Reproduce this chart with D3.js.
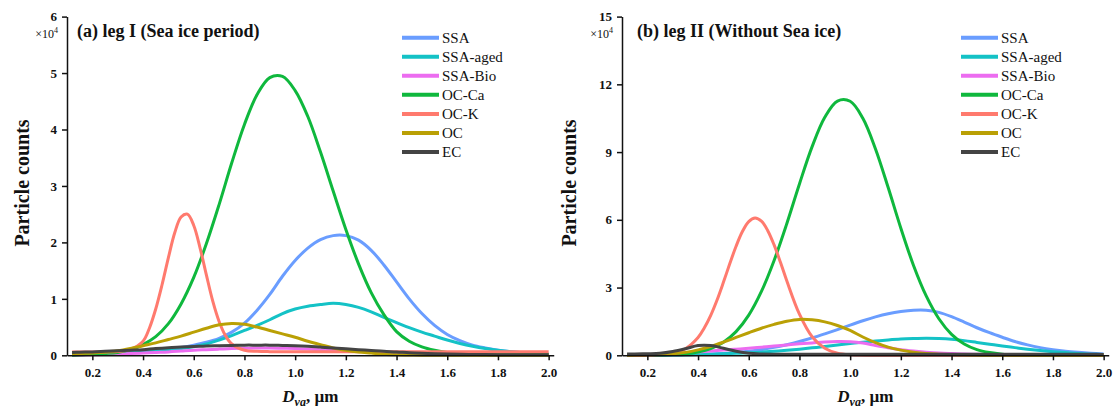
<!DOCTYPE html>
<html>
<head>
<meta charset="utf-8">
<script src="https://cdn.jsdelivr.net/npm/d3@7"></script>
<style>
  body { margin: 0; background: #fff; }
  svg text { font-family: "Liberation Serif", "Times New Roman", serif; fill: #111; }
</style>
</head>
<body>
<svg id="chart" width="1115" height="412"></svg>
<script>
// diameter grid (Dva, µm) shared by most curves
const diameter = [0.12, 0.15, 0.2, 0.25, 0.3, 0.35, 0.4, 0.45, 0.5, 0.55,
  0.6, 0.65, 0.7, 0.75, 0.8, 0.85, 0.9, 0.95,
  1.0, 1.05, 1.1, 1.15, 1.2, 1.25, 1.3, 1.35, 1.4, 1.45,
  1.5, 1.55, 1.6, 1.65, 1.7, 1.75, 1.8, 1.85, 1.9, 1.95,
  2.0];
// finer grid for the narrow OC-K peaks
const diameterK = [0.12, 0.2, 0.3, 0.35, 0.4, 0.425, 0.45, 0.475, 0.5, 0.525,
  0.55, 0.575, 0.6, 0.625, 0.65, 0.675, 0.7, 0.725, 0.75, 0.8,
  0.85, 0.9, 0.95, 1.0, 1.2, 1.4, 1.6, 1.8, 2.0];

const seriesNames = ["SSA", "SSA-aged", "SSA-Bio", "OC-Ca", "OC-K", "OC", "EC"];
const seriesColors = ["#6a9dff", "#14c2c6", "#ec6cf0", "#0fb83d", "#ff7a6e", "#baa005", "#444444"];

const xTicks = [0.2, 0.4, 0.6, 0.8, 1.0, 1.2, 1.4, 1.6, 1.8, 2.0];
const legITicks = [0, 1, 2, 3, 4, 5, 6];
const legIITicks = [0, 3, 6, 9, 12, 15];

// leg I, particle counts (x10^4)
const legI_SSA = [0.02, 0.02, 0.03, 0.04, 0.05, 0.06, 0.07, 0.09, 0.11, 0.14,
  0.18, 0.23, 0.30, 0.41, 0.57, 0.80, 1.08, 1.40,
  1.68, 1.90, 2.05, 2.12, 2.12, 2.04, 1.86, 1.60, 1.30, 1.00,
  0.74, 0.53, 0.37, 0.26, 0.18, 0.13, 0.09, 0.065, 0.045, 0.03,
  0.02];
const legI_SSAaged = [0.01, 0.01, 0.02, 0.03, 0.04, 0.05, 0.06, 0.075, 0.09, 0.12,
  0.15, 0.20, 0.27, 0.35, 0.44, 0.53, 0.63, 0.74,
  0.82, 0.87, 0.90, 0.92, 0.90, 0.85, 0.77, 0.67, 0.58, 0.49,
  0.41, 0.34, 0.27, 0.21, 0.16, 0.12, 0.09, 0.065, 0.045, 0.03,
  0.02];
const legI_SSABio = [0.00, 0.005, 0.01, 0.015, 0.02, 0.03, 0.04, 0.05, 0.06, 0.075,
  0.09, 0.10, 0.11, 0.12, 0.125, 0.13, 0.13, 0.125,
  0.12, 0.11, 0.10, 0.09, 0.08, 0.07, 0.06, 0.05, 0.04, 0.035,
  0.03, 0.025, 0.02, 0.018, 0.016, 0.015, 0.014, 0.013, 0.012, 0.011,
  0.01];
const legI_OCCa = [0.00, 0.01, 0.015, 0.03, 0.05, 0.10, 0.19, 0.33, 0.56, 0.91,
  1.38, 1.98, 2.67, 3.41, 4.09, 4.62, 4.92, 4.94,
  4.69, 4.23, 3.60, 2.91, 2.23, 1.62, 1.11, 0.72, 0.42, 0.25,
  0.15, 0.09, 0.05, 0.03, 0.02, 0.01, 0.01, 0.01, 0.01, 0.01,
  0.01];
const legI_OCK = [0.06, 0.06, 0.065, 0.105, 0.25, 0.48, 0.82, 1.25, 1.73, 2.17,
  2.45, 2.50, 2.30, 1.90, 1.42, 0.96, 0.60, 0.35, 0.20, 0.09,
  0.07, 0.065, 0.065, 0.065, 0.065, 0.065, 0.065, 0.065, 0.065];
const legI_OC = [0.02, 0.03, 0.04, 0.06, 0.08, 0.12, 0.17, 0.22, 0.28, 0.34,
  0.41, 0.48, 0.54, 0.565, 0.55, 0.50, 0.44, 0.38,
  0.32, 0.25, 0.19, 0.13, 0.09, 0.06, 0.04, 0.02, 0.01, 0.005,
  0, 0, 0, 0, 0, 0, 0, 0, 0, 0,
  0];
const legI_EC = [0.05, 0.055, 0.06, 0.07, 0.08, 0.09, 0.10, 0.12, 0.135, 0.145,
  0.155, 0.165, 0.17, 0.175, 0.18, 0.18, 0.18, 0.175,
  0.17, 0.16, 0.145, 0.13, 0.115, 0.10, 0.085, 0.07, 0.06, 0.045,
  0.035, 0.028, 0.022, 0.018, 0.015, 0.012, 0.01, 0.01, 0.01, 0.01,
  0.01];

// leg II, particle counts (x10^4)
const legII_SSA = [0, 0, 0, 0.005, 0.01, 0.02, 0.035, 0.055, 0.085, 0.126,
  0.18, 0.255, 0.35, 0.47, 0.61, 0.77, 0.95, 1.14,
  1.34, 1.53, 1.70, 1.84, 1.94, 2.00, 2.00, 1.90, 1.71, 1.47,
  1.22, 1.00, 0.80, 0.61, 0.46, 0.34, 0.25, 0.18, 0.13, 0.09,
  0.06];
const legII_SSAaged = [0, 0, 0, 0.01, 0.01, 0.02, 0.03, 0.05, 0.07, 0.09,
  0.11, 0.14, 0.18, 0.22, 0.27, 0.33, 0.39, 0.46,
  0.52, 0.58, 0.63, 0.68, 0.72, 0.74, 0.75, 0.74, 0.71, 0.65,
  0.57, 0.49, 0.41, 0.34, 0.27, 0.21, 0.16, 0.12, 0.08, 0.05,
  0.03];
const legII_SSABio = [0, 0.01, 0.02, 0.04, 0.07, 0.11, 0.15, 0.19, 0.23, 0.27,
  0.31, 0.36, 0.41, 0.46, 0.51, 0.55, 0.59, 0.61,
  0.60, 0.54, 0.43, 0.33, 0.25, 0.19, 0.14, 0.10, 0.075, 0.055,
  0.045, 0.035, 0.03, 0.025, 0.02, 0.02, 0.015, 0.015, 0.01, 0.01,
  0.01];
const legII_OCCa = [0, 0, 0.01, 0.015, 0.03, 0.07, 0.15, 0.30, 0.58, 1.05,
  1.78, 2.83, 4.20, 5.83, 7.59, 9.24, 10.54, 11.26,
  11.25, 10.50, 9.14, 7.43, 5.63, 3.98, 2.63, 1.62, 0.93, 0.50,
  0.25, 0.12, 0.05, 0.02, 0.01, 0, 0, 0, 0, 0,
  0];
const legII_OCK = [0, 0, 0.09, 0.29, 0.79, 1.22, 1.77, 2.45, 3.23, 4.05,
  4.83, 5.48, 5.92, 6.08, 5.94, 5.52, 4.89, 4.12, 3.30, 1.82,
  0.82, 0.31, 0.09, 0.02, 0, 0, 0, 0, 0];
const legII_OC = [0, 0.01, 0.02, 0.04, 0.07, 0.13, 0.24, 0.39, 0.58, 0.79,
  1.00, 1.20, 1.37, 1.51, 1.59, 1.57, 1.48, 1.32,
  1.10, 0.81, 0.56, 0.36, 0.23, 0.14, 0.08, 0.05, 0.03, 0.02,
  0.01, 0, 0, 0, 0, 0, 0, 0, 0, 0,
  0];
const legII_EC = [0.06, 0.06, 0.07, 0.09, 0.17, 0.29, 0.43, 0.43, 0.31, 0.18,
  0.09, 0.06, 0.05, 0.05, 0.05, 0.05, 0.05, 0.05,
  0.05, 0.05, 0.05, 0.05, 0.05, 0.05, 0.05, 0.05, 0.05, 0.05,
  0.05, 0.05, 0.05, 0.05, 0.05, 0.05, 0.05, 0.05, 0.05, 0.05,
  0.04];

// which x grid each series (in legend order) uses
const seriesGrids = [diameter, diameter, diameter, diameter, diameterK, diameter, diameter];

const panels = [
  {
    title: "(a) leg I (Sea ice period)",
    left: 67, titleX: 77, yLabelX: 22, legendX: 402,
    yMax: 6, yTicks: legITicks,
    values: [legI_SSA, legI_SSAaged, legI_SSABio, legI_OCCa, legI_OCK, legI_OC, legI_EC],
  },
  {
    title: "(b) leg II (Without Sea ice)",
    left: 622, titleX: 637, yLabelX: 569, legendX: 961,
    yMax: 15, yTicks: legIITicks,
    values: [legII_SSA, legII_SSAaged, legII_SSABio, legII_OCCa, legII_OCK, legII_OC, legII_EC],
  },
];

const svg = d3.select("#chart");
const plotTop = 16.6, plotBottom = 355.3, pxPerUm = 253.5;

const drawPanel = (p) => {
  const x = d3.scaleLinear().domain([0.1, 2.02]).range([p.left, p.left + 1.92 * pxPerUm]);
  const y = d3.scaleLinear().domain([0, p.yMax]).range([plotBottom, plotTop]);
  const g = svg.append("g");

  // curves
  p.values.forEach((vals, k) => {
    const grid = seriesGrids[k];
    const line = d3.line()
      .curve(d3.curveCatmullRom.alpha(0.5))
      .x((d, i) => x(grid[i]))
      .y((d) => y(d));
    g.append("path")
      .attr("fill", "none")
      .attr("stroke", seriesColors[k])
      .attr("stroke-width", 3)
      .attr("stroke-linejoin", "round")
      .attr("d", line(vals));
  });

  // axes
  const xAxis = g.append("g")
    .attr("transform", `translate(0,${plotBottom})`)
    .call(d3.axisBottom(x).tickValues(xTicks).tickFormat(d3.format(".1f"))
      .tickSize(5).tickSizeOuter(0).tickPadding(7));
  const yAxis = g.append("g")
    .attr("transform", `translate(${p.left},0)`)
    .call(d3.axisLeft(y).tickValues(p.yTicks).tickFormat(d3.format("d"))
      .tickSize(5).tickSizeOuter(0).tickPadding(5));

  [xAxis, yAxis].forEach((a) => {
    a.attr("font-family", '"Liberation Serif", serif').attr("font-size", 13);
    a.selectAll("path, line").attr("stroke", "#111").attr("stroke-width", 1.5);
    a.selectAll("text")
      .style("font-family", '"Liberation Serif", serif')
      .style("font-size", "13px")
      .style("font-weight", "bold")
      .attr("fill", "#111");
  });

  // x10^4 multiplier
  const mult = g.append("text")
    .attr("x", p.left - 9).attr("y", 38)
    .attr("text-anchor", "end")
    .style("font-size", "12px");
  mult.append("tspan").text("×10");
  mult.append("tspan").attr("dy", -5).style("font-size", "8px").text("4");

  // title
  g.append("text")
    .attr("x", p.titleX).attr("y", 37)
    .style("font-size", "18px").style("font-weight", "bold")
    .text(p.title);

  // y label
  g.append("text")
    .attr("transform", `translate(${p.yLabelX},183) rotate(-90)`)
    .attr("text-anchor", "middle")
    .attr("dy", "0.35em")
    .style("font-size", "20px").style("font-weight", "bold")
    .text("Particle counts");

  // x label
  const xl = g.append("text")
    .attr("x", (x.range()[0] + x.range()[1]) / 2).attr("y", 402)
    .attr("text-anchor", "middle")
    .style("font-size", "17px").style("font-weight", "bold");
  xl.append("tspan").style("font-style", "italic").text("D");
  xl.append("tspan").attr("dy", 4).style("font-style", "italic").style("font-size", "12px").text("va");
  xl.append("tspan").attr("dy", -4).text(", µm");

  // legend
  const leg = g.append("g");
  seriesNames.forEach((name, k) => {
    const ly = 37.7 + k * 19.05;
    leg.append("line")
      .attr("x1", p.legendX).attr("x2", p.legendX + 37)
      .attr("y1", ly).attr("y2", ly)
      .attr("stroke", seriesColors[k]).attr("stroke-width", 4);
    leg.append("text")
      .attr("x", p.legendX + 40).attr("y", ly)
      .attr("dy", "0.35em")
      .style("font-size", "15px")
      .text(name);
  });
};

panels.forEach(drawPanel);
</script>
</body>
</html>
